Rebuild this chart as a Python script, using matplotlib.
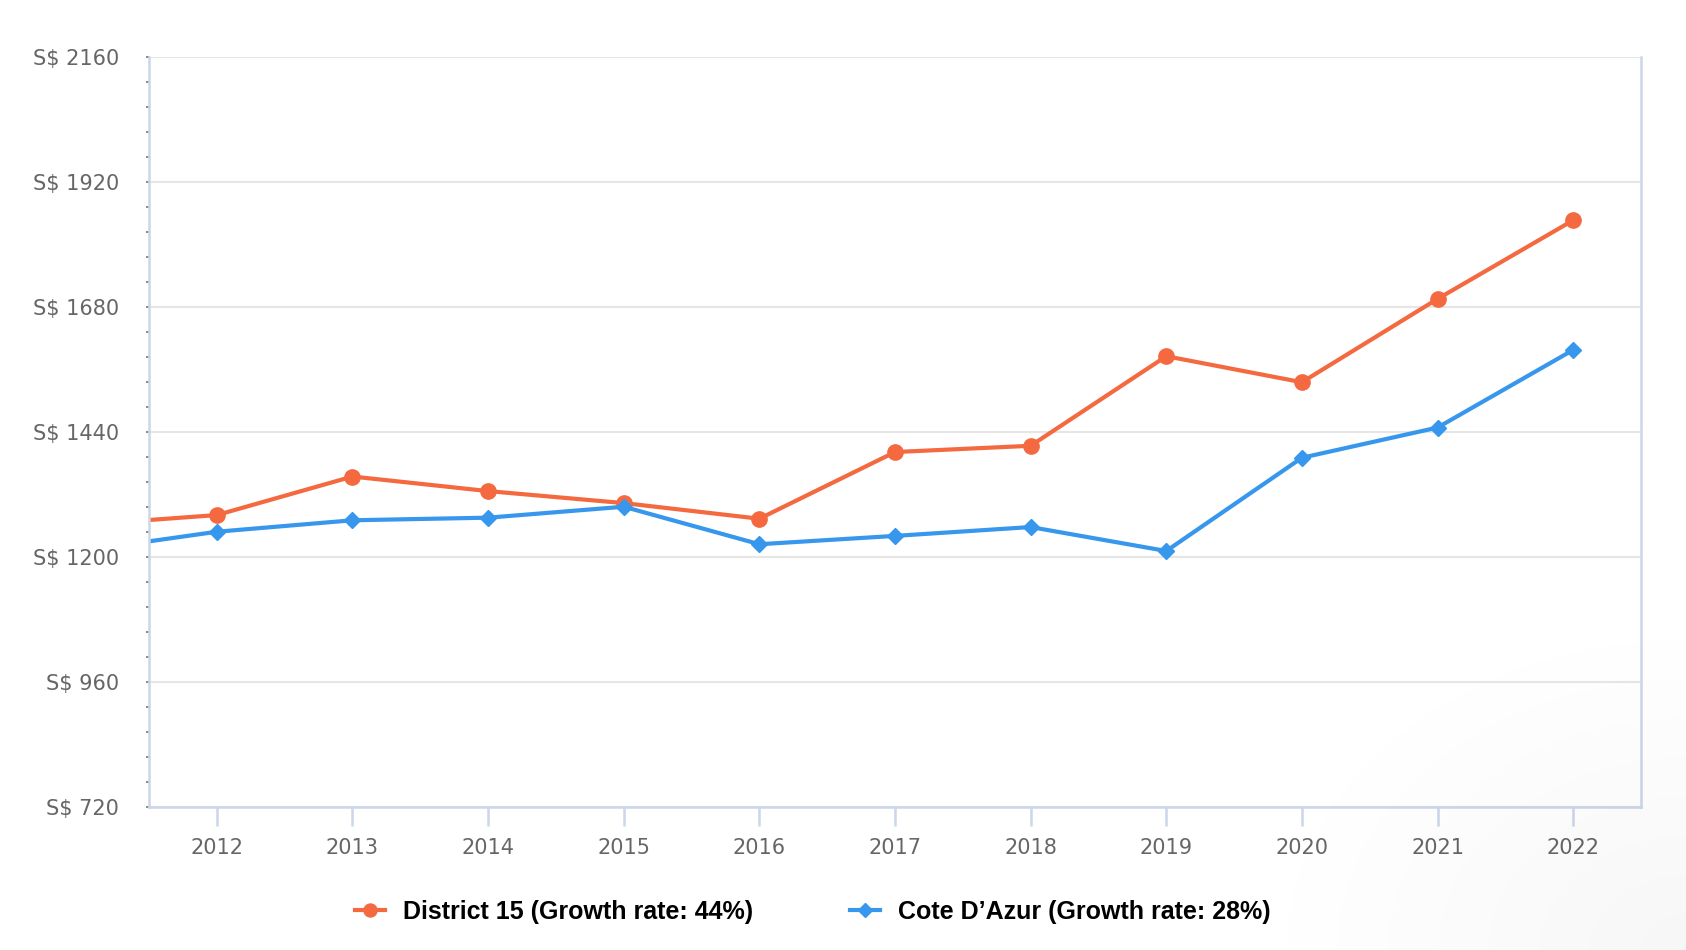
import numpy as np
import matplotlib.pyplot as plt
from matplotlib.ticker import MultipleLocator, FuncFormatter

# --- Data (2011 point sits just off the left edge, lines run into it) ---
years = [2011, 2012, 2013, 2014, 2015, 2016, 2017, 2018, 2019, 2020, 2021, 2022]
district15 = [1261, 1280, 1354, 1326, 1303, 1273, 1401, 1413, 1585, 1535, 1695, 1846]
cote_dazur = [1211, 1248, 1270, 1275, 1296, 1224, 1240, 1257, 1211, 1390, 1448, 1597]
labels = ["District 15 (Growth rate: 44%)", "Cote D\u2019Azur (Growth rate: 28%)"]

# --- Colors ---
red = "#f4693f"
blue = "#3797ec"
axis_color = "#ccd6eb"
grid_color = "#e6e6e6"
label_color = "#666666"

fig = plt.figure(figsize=(16.86, 9.5), dpi=100)

# faint grey shading in the bottom-right corner
h, w = 950, 1686
yy, xx = np.mgrid[0:h, 0:w]
d = np.hypot((w - xx) / 450.0, (h - yy) / 350.0)
alpha = np.clip(1 - d, 0, 1) * 0.035
shade = np.zeros((h, w, 4))
shade[..., 3] = alpha
fig.figimage(shade, 0, 0, origin="upper", zorder=0)

ax = fig.add_axes([0.0884, 0.1508, 0.9733 - 0.0884, 0.9403 - 0.1508])
ax.set_facecolor("white")

ax.plot(years, district15, color=red, lw=3, marker="o", ms=11, label=labels[0])
ax.plot(years, cote_dazur, color=blue, lw=3, marker="D", ms=8.5, label=labels[1])

ax.set_xlim(2011.5, 2022.5)
ax.set_ylim(720, 2160)
ax.set_xticks(years[1:])
ax.yaxis.set_major_locator(MultipleLocator(240))
ax.yaxis.set_minor_locator(MultipleLocator(48))
ax.yaxis.set_major_formatter(FuncFormatter(lambda v, p: f"S$ {int(v)}"))

ax.grid(axis="y", color=grid_color, lw=1.5)
ax.set_axisbelow(True)

for side in ["left", "bottom", "right"]:
    ax.spines[side].set_color(axis_color)
    ax.spines[side].set_linewidth(1.8)
ax.spines["top"].set_visible(False)

ax.tick_params(axis="y", which="both", length=2.5, width=1.2, color="#777777",
               labelsize=15, labelcolor=label_color, pad=19)
ax.tick_params(axis="x", length=13.5, width=1.8, color=axis_color,
               labelsize=15, labelcolor=label_color, pad=9)

fig.legend(loc="center", bbox_to_anchor=(0.482, 0.04), ncol=2, frameon=False,
           prop={"family": ["Liberation Sans Narrow", "Liberation Sans"],
                 "weight": "bold", "size": 18},
           handlelength=1.2, handletextpad=0.7, columnspacing=3.9,
           markerscale=0.85)

fig.savefig("out.png", dpi=100)
